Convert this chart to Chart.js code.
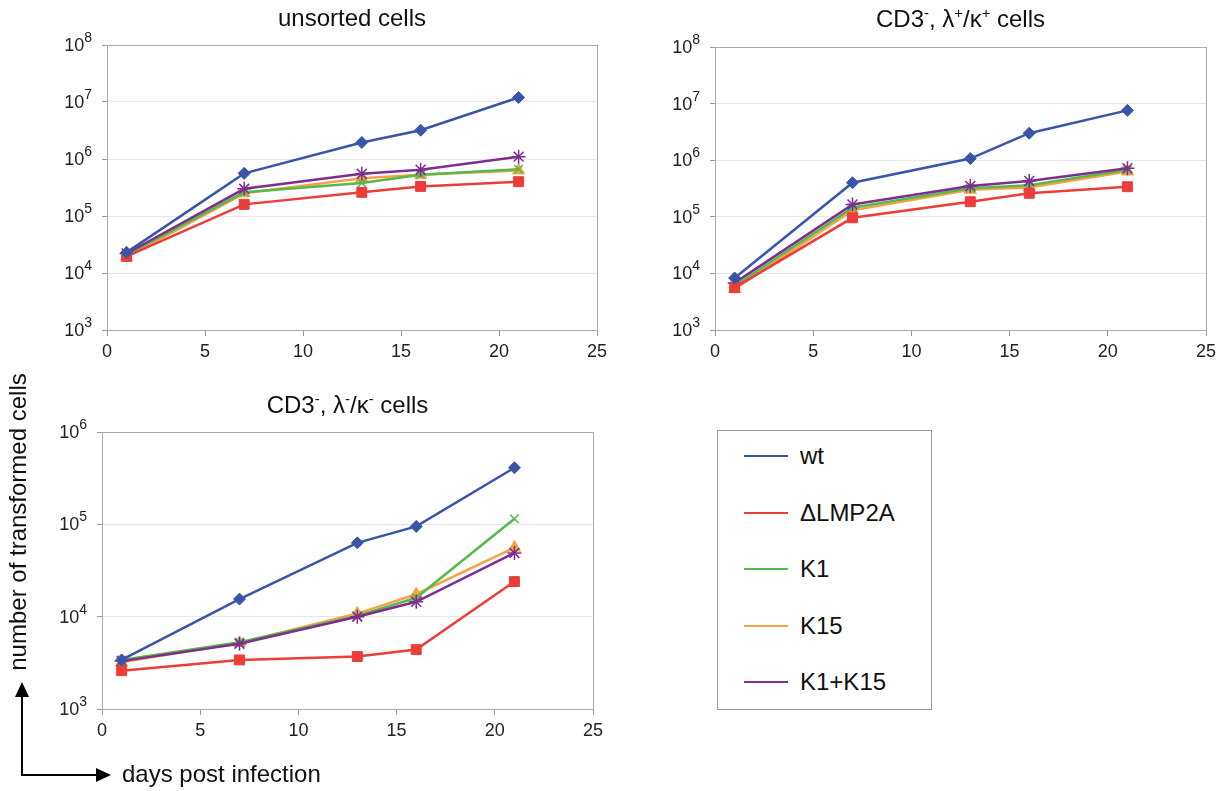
<!DOCTYPE html>
<html>
<head>
<meta charset="utf-8">
<script src="https://cdn.jsdelivr.net/npm/chart.js@4/dist/chart.umd.min.js"></script>
<style>
  body { margin: 0; background: #fff; font-family: "Liberation Sans", Arial, sans-serif; color: #111; }
  #page { position: relative; width: 1223px; height: 791px; overflow: hidden; }
  canvas { position: absolute; }
  .title { position: absolute; font-size: 24px; line-height: 28px; text-align: center; white-space: nowrap; }
  .title sup { font-size: 62%; line-height: 0; vertical-align: 0.6em; }
  #legend { position: absolute; left: 717px; top: 430px; width: 213px; height: 278px; border: 1px solid #999; }
  .item { position: absolute; left: 26px; height: 28px; font-size: 24px; line-height: 28px; }
  .item span.ln { position: absolute; left: 0; top: 13px; width: 44px; height: 2px; }
  .item span.tx { position: absolute; left: 56px; top: 0; white-space: nowrap; }
  .lbl { position: absolute; font-size: 24px; line-height: 28px; white-space: nowrap; }
</style>
</head>
<body>
<div id="page">
  <canvas id="c1" width="611" height="380" style="left:0;top:0"></canvas>
  <canvas id="c2" width="612" height="380" style="left:611px;top:0"></canvas>
  <canvas id="c3" width="611" height="406" style="left:0;top:385px"></canvas>

  <div class="title" style="left:107px;width:490px;top:4px">unsorted cells</div>
  <div class="title" style="left:715px;width:491px;top:5px">CD3<sup>-</sup>, λ<sup>+</sup>/κ<sup>+</sup> cells</div>
  <div class="title" style="left:102px;width:491px;top:391px">CD3<sup>-</sup>, λ<sup>-</sup>/κ<sup>-</sup> cells</div>

  <div id="legend"></div>

  <svg style="position:absolute;left:0;top:0" width="1223" height="791">
    <polyline points="22,695 22,775 98,775" fill="none" stroke="#000" stroke-width="2"/>
    <polygon points="22,682 15,697 29,697" fill="#000"/>
    <polygon points="111,775 96,768 96,782" fill="#000"/>
  </svg>
  <div class="lbl" style="left:122px;top:760px">days post infection</div>
  <div class="lbl" style="left:18px;top:522px;transform:translate(-50%,-50%) rotate(-90deg)">number of transformed cells</div>
</div>

<script>
// days post infection
const days = [1, 7, 13, 16, 21];

// unsorted cells
const unsortedWt    = [2.3e4, 5.6e5, 1.95e6, 3.2e6, 1.2e7];
const unsortedDLMP  = [1.95e4, 1.6e5, 2.6e5, 3.3e5, 4.0e5];
const unsortedK1    = [2.1e4, 2.6e5, 3.8e5, 5.3e5, 6.6e5];
const unsortedK15   = [1.9e4, 2.5e5, 4.6e5, 5.3e5, 6.3e5];
const unsortedK1K15 = [2.2e4, 3.0e5, 5.5e5, 6.5e5, 1.1e6];

// CD3-, lambda+/kappa+ cells
const posWt    = [8.3e3, 4.0e5, 1.07e6, 3.0e6, 7.6e6];
const posDLMP  = [5.6e3, 9.6e4, 1.85e5, 2.6e5, 3.4e5];
const posK1    = [6.0e3, 1.45e5, 3.2e5, 3.6e5, 6.8e5];
const posK15   = [5.3e3, 1.3e5, 3.0e5, 3.3e5, 6.3e5];
const posK1K15 = [6.8e3, 1.65e5, 3.5e5, 4.3e5, 7.2e5];

// CD3-, lambda-/kappa- cells
const negWt    = [3.4e3, 1.55e4, 6.3e4, 9.5e4, 4.1e5];
const negDLMP  = [2.6e3, 3.4e3, 3.7e3, 4.4e3, 2.4e4];
const negK1    = [3.4e3, 5.3e3, 1.02e4, 1.6e4, 1.15e5];
const negK15   = [3.2e3, 5.2e3, 1.08e4, 1.75e4, 5.6e4];
const negK1K15 = [3.3e3, 5.1e3, 1.0e4, 1.45e4, 4.9e4];

const seriesNames = ['wt', '\u0394LMP2A', 'K1', 'K15', 'K1+K15'];
const FONT = '"Liberation Sans", Arial, sans-serif';

const styles = [
  { color: '#3a55a8', point: 'rectRot', radius: 6, order: 0 },
  { color: '#ec3d38', point: 'rect', radius: 7, order: 1 },
  { color: '#55b94c', point: 'crossRot', radius: 6, order: 3 },
  { color: '#f5a244', point: 'triangle', radius: 7, order: 4 },
  { color: '#7d2e8f', point: 'star', radius: 7, order: 2 }
];

// legend (html box)
const legendBox = document.getElementById('legend');
seriesNames.forEach((name, i) => {
  const row = document.createElement('div');
  row.className = 'item';
  row.style.top = (11 + i * 56.5) + 'px';
  row.innerHTML = '<span class="ln" style="background:' + styles[i].color + '"></span><span class="tx">' + name + '</span>';
  legendBox.appendChild(row);
});

// y labels as 10 with superscript exponent, plus the grey box round the plot
const logLabels = {
  id: 'logLabels',
  afterDraw(chart) {
    const { ctx, chartArea: a, scales: { y } } = chart;
    ctx.save();
    ctx.strokeStyle = '#aaa';
    ctx.lineWidth = 1;
    ctx.strokeRect(Math.round(a.left) + 0.5, Math.round(a.top) + 0.5, a.right - a.left, a.bottom - a.top);
    ctx.fillStyle = '#222';
    y.ticks.forEach(t => {
      const py = y.getPixelForValue(t.value);
      const exp = String(Math.round(Math.log10(t.value)));
      const right = a.left - 15;
      ctx.font = '14px ' + FONT;
      const sw = ctx.measureText(exp).width;
      ctx.textAlign = 'left';
      ctx.textBaseline = 'alphabetic';
      ctx.fillText(exp, right - sw, py - 3);
      ctx.font = '18px ' + FONT;
      ctx.textAlign = 'right';
      ctx.textBaseline = 'middle';
      ctx.fillText('10', right - sw, py + 1);
    });
    ctx.restore();
  }
};

function makeChart(id, seriesList, yMin, yMax, pad, yWidth, xHeight) {
  const decades = [];
  for (let e = Math.log10(yMin); e <= Math.log10(yMax); e++) decades.push(Math.pow(10, e));

  const datasets = seriesList.map((vals, i) => ({
    label: seriesNames[i],
    data: days.map((d, k) => ({ x: d, y: vals[k] })),
    borderColor: styles[i].color,
    backgroundColor: styles[i].color,
    pointBackgroundColor: styles[i].color,
    pointBorderColor: styles[i].color,
    pointStyle: styles[i].point,
    pointRadius: styles[i].radius,
    pointBorderWidth: (styles[i].point === 'crossRot' || styles[i].point === 'star') ? 1.5 : 1,
    borderWidth: 2.5,
    order: styles[i].order,
    tension: 0,
    fill: false
  }));

  return new Chart(document.getElementById(id), {
    type: 'line',
    data: { datasets: datasets },
    options: {
      responsive: false,
      animation: false,
      layout: { padding: { top: pad.top, right: pad.right, left: 0, bottom: 0 } },
      plugins: { legend: { display: false }, tooltip: { enabled: false } },
      scales: {
        x: {
          type: 'linear',
          min: 0,
          max: 25,
          ticks: { stepSize: 5, color: '#222', font: { family: FONT, size: 18 }, padding: 5 },
          grid: { drawOnChartArea: false, tickLength: 6, color: '#999' },
          border: { color: '#999' },
          afterFit(s) { s.height = xHeight; s.paddingLeft = 0; s.paddingRight = 0; }
        },
        y: {
          type: 'logarithmic',
          min: yMin,
          max: yMax,
          afterBuildTicks(s) { s.ticks = decades.map(v => ({ value: v })); },
          ticks: { callback: () => '' },
          grid: { color: '#e6e6e6', tickColor: '#999', tickLength: 5 },
          border: { color: '#999' },
          afterFit(s) { s.width = yWidth; s.paddingTop = 0; s.paddingBottom = 0; }
        }
      }
    },
    plugins: [logLabels]
  });
}

makeChart('c1', [unsortedWt, unsortedDLMP, unsortedK1, unsortedK15, unsortedK1K15], 1e3, 1e8,
  { top: 45, right: 14 }, 107, 50);
makeChart('c2', [posWt, posDLMP, posK1, posK15, posK1K15], 1e3, 1e8,
  { top: 47, right: 17 }, 104, 50);
makeChart('c3', [negWt, negDLMP, negK1, negK15, negK1K15], 1e3, 1e6,
  { top: 47, right: 18 }, 102, 82);
</script>
</body>
</html>
